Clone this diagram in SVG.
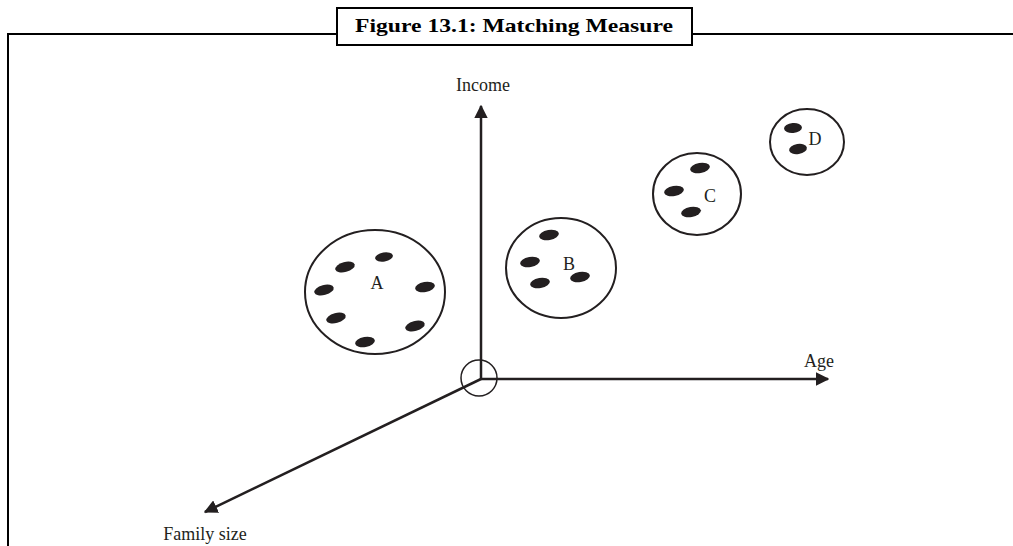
<svg xmlns="http://www.w3.org/2000/svg" width="1013" height="546" viewBox="0 0 1013 546">
<defs>
<style>
.ln{stroke:#231f20;stroke-width:2.5;fill:none}
.cl{stroke:#231f20;stroke-width:2;fill:#fff}
.dot{fill:#231f20}
.lb{font-family:"Liberation Serif","DejaVu Serif",serif;font-size:18px;fill:#231f20;text-anchor:middle}
</style>
<marker id="ah" viewBox="0 0 10 10" refX="9" refY="5" markerWidth="5.5" markerHeight="5.5" orient="auto" markerUnits="strokeWidth">
<path d="M0,0 L10,5 L0,10 z" fill="#231f20"/>
</marker>
</defs>
<rect width="1013" height="546" fill="#fff"/>
<g id="frame">
<path d="M8,546 V34 H1013" stroke="#000" stroke-width="2" fill="none"/>
<rect x="337" y="8" width="355" height="37" fill="#fff" stroke="#000" stroke-width="2"/>
<text x="514" y="32" font-family="'Liberation Serif','DejaVu Serif',serif" font-size="19" font-weight="bold" text-anchor="middle" textLength="318" lengthAdjust="spacingAndGlyphs" fill="#000">Figure 13.1: Matching Measure</text>
</g>
<g id="connectors">
<line class="ln" x1="481" y1="379" x2="481" y2="106" marker-end="url(#ah)"/>
<line class="ln" x1="481" y1="379" x2="828" y2="379" marker-end="url(#ah)"/>
<line class="ln" x1="481" y1="379" x2="205" y2="512" marker-end="url(#ah)"/>
</g>
<g id="origin">
<circle cx="479" cy="378" r="18" fill="none" stroke="#231f20" stroke-width="1.5"/>
</g>
<g id="axis-labels">
<text class="lb" x="483" y="91">Income</text>
<text class="lb" x="819" y="367">Age</text>
<text class="lb" x="205" y="540">Family size</text>
</g>
<g id="cluster-A">
<ellipse class="cl" cx="375" cy="292" rx="70" ry="62"/>
<ellipse class="dot" cx="345" cy="267" rx="10" ry="5" transform="rotate(-15 345 267)"/>
<ellipse class="dot" cx="384" cy="257" rx="9" ry="4.5" transform="rotate(-10 384 257)"/>
<ellipse class="dot" cx="324" cy="290" rx="10" ry="5" transform="rotate(-15 324 290)"/>
<ellipse class="dot" cx="425" cy="287" rx="10" ry="5" transform="rotate(-10 425 287)"/>
<ellipse class="dot" cx="336" cy="318" rx="10" ry="5" transform="rotate(-15 336 318)"/>
<ellipse class="dot" cx="415" cy="326" rx="10" ry="5" transform="rotate(-15 415 326)"/>
<ellipse class="dot" cx="365" cy="342" rx="10" ry="5" transform="rotate(-10 365 342)"/>
<text class="lb" x="377" y="289">A</text>
</g>
<g id="cluster-B">
<ellipse class="cl" cx="561" cy="268" rx="55" ry="50"/>
<ellipse class="dot" cx="549" cy="235" rx="10" ry="5" transform="rotate(-10 549 235)"/>
<ellipse class="dot" cx="530" cy="262" rx="10" ry="5" transform="rotate(-10 530 262)"/>
<ellipse class="dot" cx="580" cy="277" rx="10" ry="5" transform="rotate(-10 580 277)"/>
<ellipse class="dot" cx="540" cy="283" rx="10" ry="5" transform="rotate(-10 540 283)"/>
<text class="lb" x="569" y="270">B</text>
</g>
<g id="cluster-C">
<ellipse class="cl" cx="697" cy="194" rx="44" ry="41"/>
<ellipse class="dot" cx="700" cy="168" rx="10" ry="5" transform="rotate(-10 700 168)"/>
<ellipse class="dot" cx="674" cy="191" rx="10" ry="5" transform="rotate(-10 674 191)"/>
<ellipse class="dot" cx="691" cy="212" rx="10" ry="5" transform="rotate(-10 691 212)"/>
<text class="lb" x="710" y="202">C</text>
</g>
<g id="cluster-D">
<ellipse class="cl" cx="807" cy="142" rx="37" ry="33"/>
<ellipse class="dot" cx="793" cy="128" rx="9" ry="5" transform="rotate(-5 793 128)"/>
<ellipse class="dot" cx="798" cy="149" rx="9" ry="5" transform="rotate(-10 798 149)"/>
<text class="lb" x="815" y="145">D</text>
</g>
</svg>
